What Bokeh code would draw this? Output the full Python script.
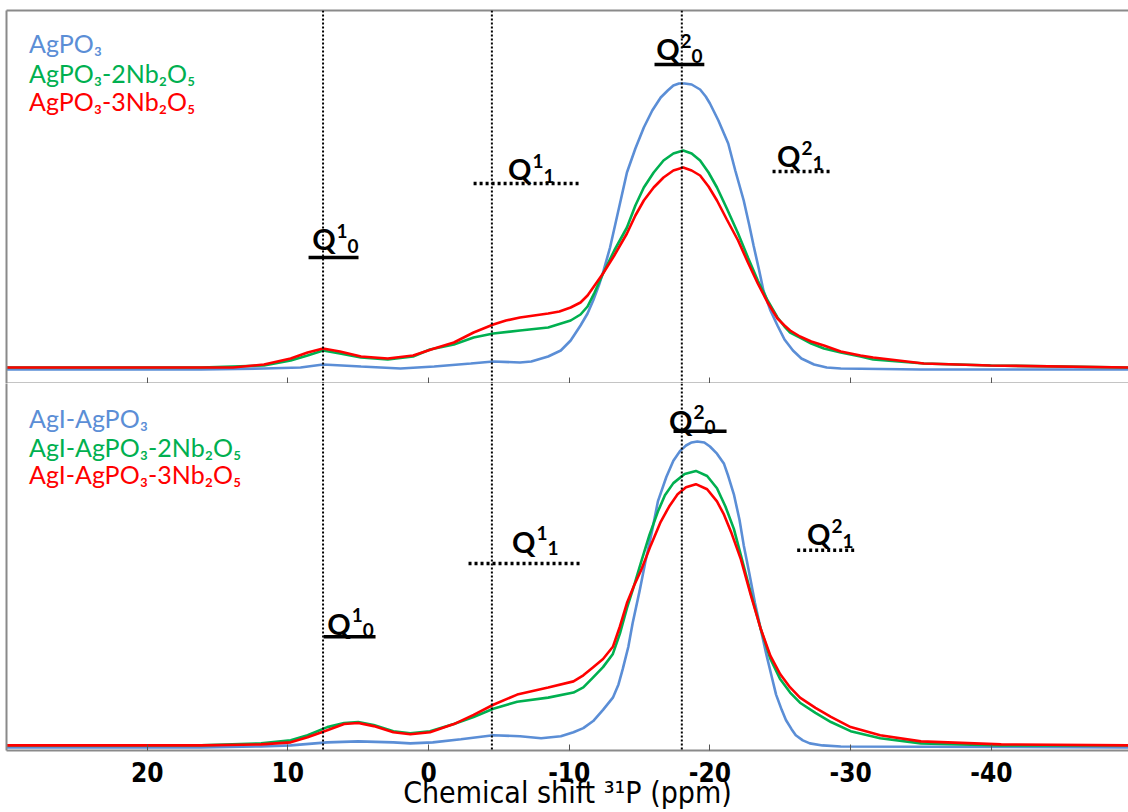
from bokeh.plotting import figure
from bokeh.models import Range1d, LinearAxis, FixedTicker, Span, ColumnDataSource
from bokeh.layouts import column
from bokeh.embed import file_html
from bokeh.resources import INLINE
from bokeh.core.properties import value

# ---------------- data (ppm, intensity in arbitrary units) ----------------
tick_values = [20, 10, 0, -10, -20, -30, -40]
tick_labels = ["20", "10", "0", "-10", "-20", "-30", "-40"]

# top panel
top_blue_ppm = [30, 16.2, 11.7, 9.1, 7.5, 4.8, 2.0, -0.4, -3.0, -4.6, -6.5, -7.3, -8.5, -9.4, -10.1, -10.8,
                -11.3, -11.7, -12.1, -12.4, -12.9, -13.3, -13.7, -14.1, -14.7, -15.3, -15.9, -16.5, -17.0,
                -17.4, -17.8, -18.2, -18.7, -19.3, -19.7, -20.0, -20.6, -21.3, -21.8, -22.4, -22.8, -23.1,
                -23.5, -23.8, -24.3, -24.8, -25.3, -25.9, -26.5, -27.4, -28.3, -29.3, -35, -50]
top_blue_int = [1, 1, 2, 3, 6, 4, 2, 4, 7, 9, 8, 9, 14, 20, 30, 45,
                57, 70, 85, 98, 123, 148, 173, 198, 222, 243, 260, 273, 280,
                285, 287, 287, 286, 281, 274, 267, 250, 227, 200, 170, 145, 125,
                100, 80, 60, 45, 31, 20, 12, 6, 3, 2, 1, 1]

top_green_ppm = [30, 16.2, 11.7, 9.8, 8.6, 7.5, 6.3, 4.8, 2.9, 1.1, -0.1, -1.8, -3.2, -4.6, -6.5, -8.5,
                 -10.1, -10.8, -11.3, -11.8, -12.4, -13.2, -14.1, -14.7, -15.3, -16.0, -16.7, -17.4, -18.1,
                 -18.7, -19.3, -19.9, -20.5, -21.2, -22.0, -22.7, -23.4, -24.1, -24.8, -25.3, -25.7, -26.4,
                 -27.2, -28.1, -29.3, -30.7, -31.6, -35.2, -40, -50]
top_green_int = [3, 3, 5, 10, 15, 20, 17, 13, 11, 14, 21, 26, 33, 37, 40, 43,
                 50, 56, 64, 78, 97, 120, 143, 165, 183, 198, 210, 217, 220,
                 217, 210, 198, 183, 162, 137, 113, 90, 70, 53, 44, 38, 33,
                 27, 22, 18, 14, 11, 7, 5, 3]

top_red_ppm = [30, 16.2, 13.9, 11.7, 9.8, 8.6, 7.5, 6.3, 4.8, 2.9, 1.1, -0.4, -1.8, -3.2, -4.6, -5.5, -6.5,
               -7.5, -8.5, -9.3, -10.1, -10.8, -11.3, -11.8, -12.4, -13.2, -14.1, -14.7, -15.3, -16.0,
               -16.7, -17.4, -18.1, -18.7, -19.3, -19.9, -20.5, -21.2, -22.0, -22.7, -23.4, -24.1, -24.8,
               -25.3, -25.7, -26.4, -27.2, -28.1, -29.3, -30.7, -31.6, -35.2, -39.9, -50]
top_red_int = [3, 3, 3, 6, 12, 18, 22, 19, 14, 12, 15, 22, 28, 38, 46, 50, 53,
               55, 57, 59, 63, 68, 75, 85, 97, 115, 137, 155, 170, 183,
               193, 200, 203, 200, 195, 184, 170, 151, 130, 108, 87, 68, 52,
               45, 40, 34, 29, 25, 19, 15, 13, 7, 5, 3]

# bottom panel
bot_blue_ppm = [30, 16.2, 11.9, 9.8, 7.2, 5.0, 2.5, 1.3, -0.3, -2.3, -4.6, -6.5, -8.0, -9.4, -10.3, -11.0,
                -11.7, -12.4, -13.1, -13.5, -13.8, -14.2, -14.5, -15.0, -15.4, -15.9, -16.3, -16.9, -17.4,
                -17.9, -18.3, -18.7, -19.1, -19.6, -20.0, -20.5, -21.0, -21.3, -21.7, -22.1, -22.4, -22.8,
                -23.2, -23.6, -24.0, -24.4, -24.7, -25.1, -25.4, -25.8, -26.1, -26.6, -27.1, -28.0, -29.3, -50]
bot_blue_int = [1, 1, 2, 3, 6, 7, 6, 5, 6, 9, 13, 12, 10, 12, 16, 20,
                27, 38, 50, 63, 78, 100, 123, 155, 183, 215, 243, 267, 283,
                293, 298, 301, 302, 301, 297, 290, 280, 268, 250, 225, 200, 172,
                143, 118, 93, 70, 53, 38, 28, 19, 13, 8, 5, 3, 2, 1]

bot_green_ppm = [30, 16.2, 11.9, 9.8, 8.6, 7.2, 6.0, 5.0, 3.9, 2.5, 1.3, -0.1, -1.8, -3.2, -4.6, -6.3, -8.5,
                 -10.3, -11.0, -11.7, -12.4, -13.1, -13.6, -14.1, -14.6, -15.1, -15.7, -16.3, -16.8, -17.4,
                 -18.2, -19.0, -19.8, -20.5, -21.1, -21.7, -22.2, -22.9, -23.6, -24.3, -25.0, -25.7, -26.4,
                 -27.5, -28.6, -30.0, -32.1, -35.0, -40.7, -50]
bot_green_int = [3, 3, 5, 8, 13, 21, 25, 26, 23, 17, 15, 17, 24, 31, 39, 46, 50,
                 55, 60, 70, 80, 93, 113, 138, 160, 183, 210, 233, 249, 261,
                 270, 273, 268, 256, 238, 216, 190, 153, 118, 88, 68, 55, 45,
                 35, 26, 17, 10, 5, 3, 3]

bot_red_ppm = [30, 16.2, 11.9, 9.8, 8.6, 7.2, 6.0, 5.0, 3.9, 2.5, 1.3, -0.1, -1.8, -3.2, -4.6, -6.3, -8.5,
               -10.3, -11.0, -11.7, -12.4, -13.1, -13.6, -14.1, -14.6, -15.1, -15.8, -16.5, -17.1, -17.7,
               -18.3, -19.0, -19.8, -20.5, -21.0, -21.5, -22.2, -22.9, -23.6, -24.3, -25.0, -25.7, -26.4,
               -27.5, -28.6, -30.0, -32.1, -35.0, -40.7, -50]
bot_red_int = [3, 3, 4, 6, 11, 18, 24, 25, 22, 16, 14, 16, 24, 33, 43, 53, 60,
               66, 72, 80, 88, 100, 120, 143, 160, 175, 200, 223, 238, 250,
               257, 260, 255, 243, 230, 213, 186, 151, 118, 91, 73, 60, 50,
               40, 31, 21, 13, 7, 4, 3]

# legends
top_names = ["AgPO\u2083", "AgPO\u2083-2Nb\u2082O\u2085", "AgPO\u2083-3Nb\u2082O\u2085"]
bot_names = ["AgI-AgPO\u2083", "AgI-AgPO\u2083-2Nb\u2082O\u2085", "AgI-AgPO\u2083-3Nb\u2082O\u2085"]
series_colors = ["#5b8ed6", "#00b050", "#ff0000"]

# reference positions (vertical dotted lines, ppm)
ref_lines = [7.5, -4.5, -18.0]

# Q annotations
q_sup = ["1", "1", "2", "2"]
q_sub = ["0", "1", "0", "1"]
q_dotted = [False, True, False, True]

# ---------------- layout values ----------------
top_bar_x0 = [8.53, -3.2, -16.06, -24.45]
top_bar_x1 = [4.98, -10.66, -19.6, -28.57]
top_bar_y = [113, 187, 306, 199]
top_q_x = [6.61, -7.32, -17.84, -26.44]
top_q_y = [132, 202, 322, 215]

bot_bar_x0 = [7.46, -2.84, -17.41, -26.2]
bot_bar_x1 = [3.77, -10.8, -21.18, -30.3]
bot_bar_y = [110, 182, 312, 195]
bot_q_x = [5.54, -7.6, -18.76, -28.57]
bot_q_y = [123, 204, 323, 211]

top_leg_y = [328, 298, 270]
bot_leg_y = [325, 297, 270]
leg_x = 28.4

GRAY = "#8a8a8a"
COND = "DejaVu Sans Condensed"

xr = Range1d(30, -49.75)


def line_axis():
    ax = LinearAxis(ticker=FixedTicker(ticks=[]))
    ax.axis_line_color = GRAY
    ax.axis_line_width = 2
    ax.major_tick_line_color = None
    ax.minor_tick_line_color = None
    ax.major_label_text_font_size = "0px"
    ax.major_label_standoff = 0
    ax.major_tick_out = 0
    return ax


def make_fig(height, y0, y1, top_border, labels):
    p = figure(width=1128, height=height, x_range=xr, y_range=Range1d(y0, y1),
               output_backend="svg", toolbar_location=None, title=None,
               x_axis_location=None, y_axis_location=None,
               min_border_left=6, min_border_right=0,
               min_border_top=top_border, min_border_bottom=0)
    p.grid.visible = False
    p.outline_line_color = None
    p.background_fill_color = "white"
    p.border_fill_color = "white"
    p.add_layout(line_axis(), "left")
    if not labels:
        p.add_layout(line_axis(), "above")
    ax = LinearAxis(ticker=FixedTicker(ticks=tick_values))
    ax.major_tick_in = 6
    ax.major_tick_out = 0
    ax.minor_tick_line_color = None
    ax.major_tick_line_color = "#555555"
    ax.axis_line_color = GRAY
    ax.axis_line_width = 2
    if labels:
        ax.major_label_overrides = dict(zip(tick_values, tick_labels))
        ax.major_label_text_font = COND
        ax.major_label_text_font_style = "bold"
        ax.major_label_text_font_size = "26px"
        ax.major_label_text_color = "black"
        ax.major_label_standoff = 11
        ax.axis_label = "Chemical shift \u00b3\u00b9P (ppm)"
        ax.axis_label_text_font = COND
        ax.axis_label_text_font_style = "normal"
        ax.axis_label_text_font_size = "30px"
        ax.axis_label_text_color = "black"
        ax.axis_label_standoff = -10
    else:
        ax.major_label_overrides = {t: "" for t in tick_values}
        ax.major_label_text_font_size = "0px"
        ax.major_label_standoff = 0
    p.add_layout(ax, "below")
    return p


def decorate(p, curves, names, leg_y, bx0, bx1, by, qx, qy):
    for loc in ref_lines:
        p.add_layout(Span(location=loc, dimension="height", line_color="black",
                          line_width=2, line_dash="2 2"))
    for (xs, ys), c in zip(curves, series_colors):
        p.line(xs, ys, line_color=c, line_width=2.6)
    p.text(x=[leg_x] * 3, y=leg_y, text=names, text_color=series_colors,
           text_font=value("Lato"), text_font_size="25px",
           text_baseline="middle", text_align="left")
    solid = ColumnDataSource(dict(
        x0=[a for a, d in zip(bx0, q_dotted) if not d],
        x1=[a for a, d in zip(bx1, q_dotted) if not d],
        y=[a for a, d in zip(by, q_dotted) if not d]))
    dotted = ColumnDataSource(dict(
        x0=[a for a, d in zip(bx0, q_dotted) if d],
        x1=[a for a, d in zip(bx1, q_dotted) if d],
        y=[a for a, d in zip(by, q_dotted) if d]))
    p.segment(x0="x0", y0="y", x1="x1", y1="y", source=solid, line_color="black", line_width=3.5)
    p.segment(x0="x0", y0="y", x1="x1", y1="y", source=dotted, line_color="black",
              line_width=3.5, line_dash="3 3")
    p.text(x=qx, y=qy, text=["Q"] * 4, text_font=value("Lato"), text_font_style="bold",
           text_font_size="29px", text_align="right", text_baseline="alphabetic",
           text_color="black")
    p.text(x=qx, y=qy, text=q_sup, text_font=value("Lato"), text_font_style="bold",
           text_font_size="19px", text_align="left", text_baseline="alphabetic",
           text_color="black", x_offset=1, y_offset=-8)
    p.text(x=qx, y=qy, text=q_sub, text_font=value("Lato"), text_font_style="bold",
           text_font_size="19px", text_align="left", text_baseline="alphabetic",
           text_color="black", x_offset=12, y_offset=7)


top = make_fig(383, -13, 360, 10, False)
decorate(top, [(top_blue_ppm, top_blue_int), (top_green_ppm, top_green_int), (top_red_ppm, top_red_int)],
         top_names, top_leg_y, top_bar_x0, top_bar_x1, top_bar_y, top_q_x, top_q_y)

bot = make_fig(429, -2, 359, 0, True)
decorate(bot, [(bot_blue_ppm, bot_blue_int), (bot_green_ppm, bot_green_int), (bot_red_ppm, bot_red_int)],
         bot_names, bot_leg_y, bot_bar_x0, bot_bar_x1, bot_bar_y, bot_q_x, bot_q_y)

layout = column(top, bot, spacing=0)
open("out.html", "w").write(file_html(layout, INLINE))
